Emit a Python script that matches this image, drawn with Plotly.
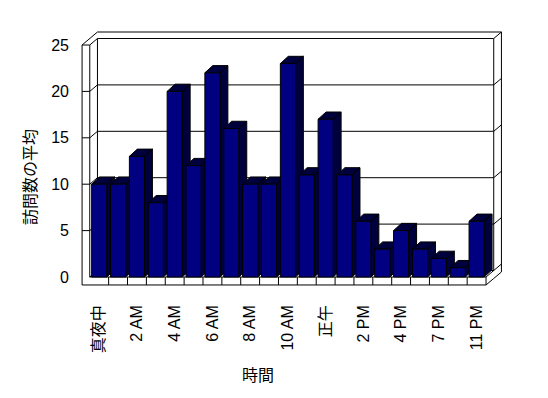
import plotly.graph_objects as go

# ---- data ----
hours = ["真夜中", "1 AM", "2 AM", "3 AM", "4 AM", "5 AM", "6 AM", "7 AM", "8 AM", "9 AM",
         "10 AM", "11 AM", "正午", "1 PM", "2 PM", "3 PM", "4 PM", "5 PM", "7 PM", "9 PM", "11 PM"]
visits = [10, 10, 13, 8, 20, 12, 22, 16, 10, 10, 23, 11, 17, 11, 6, 3, 5, 3, 2, 1, 6]
y_ticks = [0, 5, 10, 15, 20, 25]
x_title = "時間"
y_title = "訪問数の平均"

# ---- style constants ----
FONT = "Liberation Sans, Noto Sans CJK JP, sans-serif"
FRONT = "#000080"
DARK = "#00003c"
DX, DY = 0.408, 0.70      # wall depth step (x in categories, y in value units)
BDX, BDY = 0.42, 0.78     # bar depth
HALF = 0.4                # half bar width
FT = 0.86                 # floor thickness

n = len(hours)
xs = list(range(n))
L, R, TOP = -0.5, n - 0.5, y_ticks[-1]

fig = go.Figure()

# ---- frame (walls, floor, gridlines) ----
fx, fy = [], []
def seg(pts):
    for p in pts:
        fx.append(p[0]); fy.append(p[1])
    fx.append(None); fy.append(None)

seg([(L - DX, -FT), (R, -FT)])
seg([(L, 0), (R, 0)])
for i in range(n):
    seg([(i + 0.5, 0), (i + 0.5, -FT)])
seg([(R, -FT), (R + DX, -FT + DY)])
seg([(R, 0), (R + DX, DY)])
seg([(R + DX, -FT + DY), (R + 2 * DX, -FT + 2 * DY)])
seg([(R + 2 * DX, -FT + 2 * DY), (R + 2 * DX, TOP + 2 * DY)])
seg([(R + DX, DY), (R + DX, TOP + DY)])
seg([(L - DX, -FT), (L - DX, TOP)])
seg([(L, 0), (L, TOP)])
seg([(L + DX, DY), (L + DX, TOP + DY)])
seg([(L - DX, TOP), (L + DX, TOP + 2 * DY)])
seg([(L + DX, TOP + 2 * DY), (R + 2 * DX, TOP + 2 * DY)])
for v in y_ticks:
    pts = []
    if v > 0:
        pts.append((L - DX, v))
    pts += [(L, v), (L + DX, v + DY), (R + DX, v + DY), (R + 2 * DX, v + 2 * DY)]
    seg(pts)

fig.add_trace(go.Scatter(x=fx, y=fy, mode="lines", line=dict(color="black", width=1),
                         hoverinfo="skip", showlegend=False))

# ---- bars (front face + side/top faces), painted left to right ----
for x, v in zip(xs, visits):
    xl, xr = x - HALF, x + HALF
    sx = [xr, xr + BDX, xr + BDX, xr, xr, None,
          xl, xl + BDX, xr + BDX, xr, xl]
    sy = [0, BDY, v + BDY, v, 0, None,
          v, v + BDY, v + BDY, v, v]
    fig.add_trace(go.Scatter(x=sx, y=sy, mode="lines", fill="toself", fillcolor=DARK,
                             line=dict(color="black", width=1), hoverinfo="skip",
                             showlegend=False))
    fig.add_trace(go.Scatter(x=[xl, xr, xr, xl, xl], y=[0, 0, v, v, 0], mode="lines",
                             fill="toself", fillcolor=FRONT,
                             line=dict(color="black", width=1), hoverinfo="skip",
                             showlegend=False))

# ---- layout ----
# the page body adds an 8px margin, so the figure is laid out 8px smaller / shifted
OFF = 8
W, H = 548 - OFF, 398 - OFF
ML, MR, MT, MB = 70, 35, 17, 104
PX0, PXS = 99.2 - OFF, 18.87   # figure pixel of category 0, pixels per category
PY0, PYS = 277.0 - OFF, 9.28   # figure pixel of value 0, pixels per unit
x_range = [(ML - PX0) / PXS, (W - MR - PX0) / PXS]
y_range = [(PY0 - (H - MB)) / PYS, (PY0 - MT) / PYS]
PW, PH = W - ML - MR, H - MT - MB

fig.update_layout(
    width=W, height=H,
    margin=dict(l=ML, r=MR, t=MT, b=MB, autoexpand=False),
    paper_bgcolor="white", plot_bgcolor="white",
    font=dict(family=FONT, size=16, color="black"),
    xaxis=dict(range=x_range, tickmode="array", tickvals=xs[::2], ticktext=hours[::2],
               tickangle=-90, showgrid=False, zeroline=False, showline=False, ticks="",
               ticklabelstandoff=7, automargin=False, fixedrange=True),
    yaxis=dict(range=y_range, tickmode="array", tickvals=y_ticks,
               ticktext=[str(t) for t in y_ticks], showgrid=False, zeroline=False,
               showline=False, ticks="", ticklabelstandoff=8, automargin=False,
               fixedrange=True),
    annotations=[
        dict(text=y_title, xref="paper", yref="paper",
             x=(30 - OFF - ML) / PW, y=(H - MB - (177 - OFF)) / PH,
             xanchor="center", yanchor="middle",
             textangle=-90, showarrow=False, font=dict(size=16)),
        dict(text=x_title, xref="paper", yref="paper",
             x=(258 - OFF - ML) / PW, y=(H - MB - (375 - OFF)) / PH,
             xanchor="center", yanchor="middle",
             showarrow=False, font=dict(size=16)),
    ],
)

fig.write_html("out.html")
